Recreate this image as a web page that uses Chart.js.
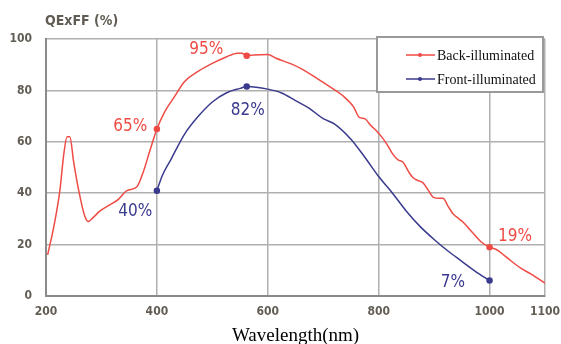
<!DOCTYPE html>
<html>
<head>
<meta charset="utf-8">
<script src="https://cdn.jsdelivr.net/npm/chart.js@4/dist/chart.umd.min.js"></script>
<style>
  html, body { margin: 0; padding: 0; background: #fff; }
  #wrap { width: 561px; height: 344px; }
</style>
</head>
<body>
<div id="wrap"><canvas id="qeChart" width="561" height="344"></canvas></div>
<script>
// Back-illuminated curve (wavelength nm, QE x FF %)
const backNm = [203, 215, 225, 232, 238, 243, 250, 260, 270, 276, 285, 297, 315, 330, 346, 364, 375, 388, 400,
    415, 430, 450, 475, 500, 525, 545, 553, 562, 575, 600, 615, 640, 660, 690, 715, 735, 755, 765, 775, 785,
    797, 805, 815, 826, 835, 844, 855, 862, 870, 880, 890, 898, 910, 916, 925, 934, 945, 952, 970, 985, 1000,
    1013, 1031, 1055, 1075, 1100];
const backQE = [16, 28, 41, 55, 62, 62, 52, 40, 31, 29, 30.5, 33, 35.5, 37.5, 41, 42.5, 48, 57, 65,
    72, 77, 83.5, 87.5, 90.5, 93, 94.5, 94.5, 93.5, 93.8, 94, 92.5, 90.5, 88.5, 84.5, 81, 78, 73.5, 69.5, 69, 66.5,
    64, 62, 59, 55, 53, 52, 48, 46, 45, 44, 41, 38.5, 38, 38, 35, 32, 30, 28.8, 24.5, 21, 19,
    18, 15, 11, 8.5, 5];

// Front-illuminated curve
const frontNm = [400, 410, 425, 450, 475, 500, 525, 550, 562, 600, 625, 650, 675, 700, 720, 750, 775, 800,
    825, 850, 875, 900, 925, 950, 975, 1000];
const frontQE = [41, 47, 53, 63, 70, 75.5, 79, 80.8, 81.5, 80.5, 79, 76, 73, 69, 67, 61, 54, 46.5,
    40, 33, 27, 22, 17.5, 13.5, 9.5, 6];

const markerNm = [400, 562, 1000];
const xTicks = [200, 400, 600, 800, 1000, 1100];

// value callouts: text, wavelength, QE, colour
const calloutText = ['95%', '65%', '19%', '82%', '40%', '7%'];
const calloutNm = [489, 352, 1046, 564, 361, 934];
const calloutQE = [95.7, 66, 23, 72, 32.7, 5.4];

const RED = '#ef4b45';
const BLUE = '#3a3a8e';
const calloutColor = [RED, RED, RED, BLUE, BLUE, BLUE];

const tickFont = { family: '"DejaVu Sans Condensed", "DejaVu Sans", sans-serif', size: 12, weight: 'bold' };
const tickColor = '#625d54';

function toPoints(xs, ys) {
    return xs.map((x, i) => ({ x: x, y: ys[i] }));
}

const extras = {
    id: 'extras',
    afterDraw(chart) {
        const ctx = chart.ctx;
        const xs = chart.scales.x, ys = chart.scales.y;
        ctx.save();

        // y axis caption
        ctx.font = 'bold 14px "DejaVu Sans Condensed", "DejaVu Sans", sans-serif';
        ctx.fillStyle = tickColor;
        ctx.textAlign = 'left';
        ctx.textBaseline = 'middle';
        ctx.fillText('QExFF (%)', 45, 21);

        // callouts
        ctx.font = '17px "DejaVu Sans Condensed", "DejaVu Sans", sans-serif';
        ctx.textAlign = 'center';
        calloutText.forEach((t, i) => {
            ctx.fillStyle = calloutColor[i];
            ctx.fillText(t, xs.getPixelForValue(calloutNm[i]), ys.getPixelForValue(calloutQE[i]));
        });

        // legend box
        ctx.fillStyle = '#fff';
        ctx.fillRect(377, 37, 166, 55);
        ctx.strokeStyle = '#999';
        ctx.lineWidth = 2;
        ctx.strokeRect(377, 37, 166, 55);
        ctx.font = '14px "Liberation Serif", "Times New Roman", serif';
        ctx.textAlign = 'left';
        chart.data.datasets.forEach((ds, i) => {
            const y = 55 + i * 24;
            ctx.strokeStyle = ds.borderColor;
            ctx.lineWidth = 1.5;
            ctx.beginPath();
            ctx.moveTo(406, y);
            ctx.lineTo(435, y);
            ctx.stroke();
            ctx.fillStyle = ds.borderColor;
            ctx.beginPath();
            ctx.arc(420, y, 2, 0, Math.PI * 2);
            ctx.fill();
            ctx.fillStyle = '#111';
            ctx.fillText(ds.label, 437, y + 1);
        });
        ctx.restore();
    }
};

function pointSize(c) {
    const p = c.raw;
    return p && markerNm.includes(p.x) ? 2.5 : 0;
}

new Chart(document.getElementById('qeChart'), {
    type: 'line',
    data: {
        datasets: [{
            label: 'Back-illuminated',
            data: toPoints(backNm, backQE),
            borderColor: RED,
            backgroundColor: RED,
            borderWidth: 1.5,
            cubicInterpolationMode: 'monotone',
            pointRadius: pointSize
        }, {
            label: 'Front-illuminated',
            data: toPoints(frontNm, frontQE),
            borderColor: BLUE,
            backgroundColor: BLUE,
            borderWidth: 1.5,
            cubicInterpolationMode: 'monotone',
            pointRadius: pointSize
        }]
    },
    options: {
        responsive: false,
        animation: false,
        layout: { padding: { top: 39, right: 16, left: 0, bottom: 0 } },
        plugins: { legend: { display: false }, tooltip: { enabled: false } },
        scales: {
            x: {
                type: 'linear',
                min: 200,
                max: 1100,
                afterBuildTicks: s => { s.ticks = xTicks.map(v => ({ value: v })); },
                afterFit: s => { s.height = 48; s.paddingLeft = 0; s.paddingRight = 0; },
                ticks: { font: tickFont, color: tickColor, padding: 9, maxRotation: 0, callback: v => String(v) },
                grid: { color: '#b0b0b0', lineWidth: 1.5, drawTicks: false },
                border: { color: '#8a8a8a', width: 2 },
                title: {
                    display: true,
                    text: 'Wavelength(nm)',
                    color: '#000',
                    font: { family: '"Liberation Serif", "Times New Roman", serif', size: 19 },
                    padding: { top: 0, bottom: -3 }
                }
            },
            y: {
                min: 0,
                max: 100,
                afterFit: s => { s.width = 46; },
                ticks: { stepSize: 20, font: tickFont, color: tickColor, padding: 14 },
                grid: { color: '#b0b0b0', lineWidth: 1.5, drawTicks: false },
                border: { color: '#8a8a8a', width: 2 }
            }
        }
    },
    plugins: [extras]
});
</script>
</body>
</html>
